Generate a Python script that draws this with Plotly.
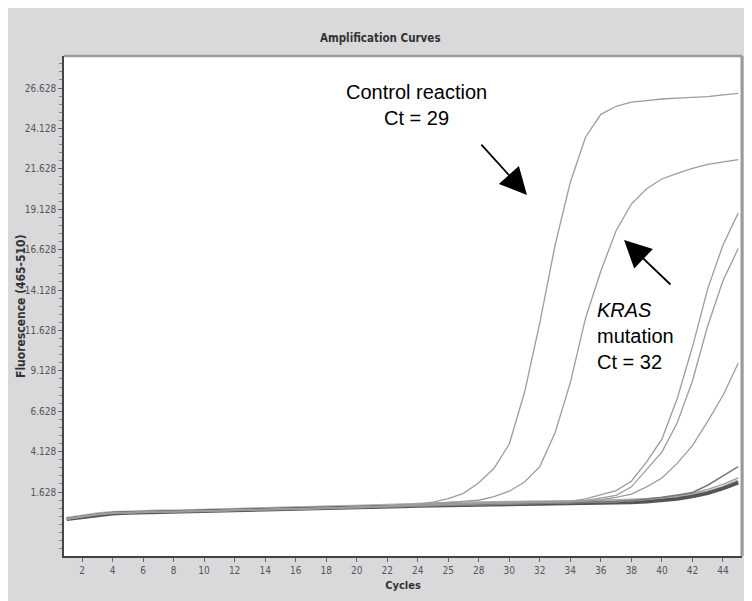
import plotly.graph_objects as go

cycles = list(range(1, 46))

control = [-0.04, 0.10, 0.25, 0.33, 0.37, 0.39, 0.40, 0.41, 0.43, 0.45,
           0.48, 0.51, 0.54, 0.57, 0.58, 0.59, 0.60, 0.62, 0.65, 0.69,
           0.72, 0.76, 0.81, 0.88, 1.00, 1.22, 1.55, 2.20, 3.10, 4.60,
           7.80, 12.10, 16.90, 20.80, 23.60, 25.00, 25.50, 25.75, 25.85, 25.95,
           26.00, 26.05, 26.10, 26.20, 26.30]

kras = [-0.02, 0.12, 0.26, 0.34, 0.38, 0.40, 0.41, 0.42, 0.44, 0.46,
        0.49, 0.52, 0.55, 0.57, 0.58, 0.60, 0.61, 0.63, 0.66, 0.70,
        0.73, 0.76, 0.80, 0.85, 0.92, 0.98, 1.05, 1.12, 1.35, 1.68,
        2.25, 3.20, 5.30, 8.40, 12.40, 15.30, 17.80, 19.45, 20.40, 21.00,
        21.35, 21.65, 21.90, 22.05, 22.20]

sample3 = [-0.03, 0.11, 0.25, 0.33, 0.37, 0.39, 0.40, 0.42, 0.43, 0.45,
           0.48, 0.51, 0.54, 0.56, 0.58, 0.59, 0.60, 0.62, 0.65, 0.69,
           0.72, 0.75, 0.79, 0.84, 0.88, 0.90, 0.92, 0.94, 0.96, 0.98,
           1.00, 1.02, 1.04, 1.05, 1.20, 1.45, 1.72, 2.30, 3.50, 4.90,
           7.40, 10.60, 14.20, 16.90, 18.90]

sample4 = [-0.03, 0.10, 0.24, 0.32, 0.36, 0.38, 0.40, 0.41, 0.42, 0.44,
           0.47, 0.50, 0.53, 0.56, 0.57, 0.58, 0.60, 0.61, 0.64, 0.68,
           0.71, 0.74, 0.78, 0.82, 0.86, 0.88, 0.90, 0.92, 0.94, 0.96,
           0.98, 1.00, 1.01, 1.02, 1.10, 1.25, 1.42, 1.95, 3.00, 4.10,
           5.90, 8.50, 11.90, 14.70, 16.70]

sample5 = [-0.04, 0.09, 0.24, 0.32, 0.36, 0.38, 0.39, 0.40, 0.42, 0.44,
           0.47, 0.50, 0.53, 0.55, 0.57, 0.58, 0.59, 0.61, 0.64, 0.67,
           0.70, 0.73, 0.77, 0.81, 0.85, 0.87, 0.89, 0.91, 0.93, 0.95,
           0.96, 0.98, 1.00, 1.02, 1.06, 1.15, 1.30, 1.50, 1.95, 2.50,
           3.40, 4.50, 6.00, 7.60, 9.60]

sample6 = [-0.05, 0.09, 0.23, 0.31, 0.35, 0.37, 0.39, 0.40, 0.41, 0.43,
           0.46, 0.49, 0.52, 0.55, 0.56, 0.57, 0.59, 0.60, 0.63, 0.66,
           0.69, 0.72, 0.75, 0.79, 0.82, 0.84, 0.85, 0.86, 0.88, 0.89,
           0.90, 0.92, 0.94, 0.96, 0.98, 1.00, 1.05, 1.10, 1.18, 1.30,
           1.45, 1.60, 2.05, 2.60, 3.20]

sample7 = [-0.05, 0.08, 0.22, 0.30, 0.34, 0.36, 0.38, 0.39, 0.40, 0.42,
           0.45, 0.48, 0.51, 0.54, 0.55, 0.56, 0.58, 0.59, 0.62, 0.65,
           0.68, 0.71, 0.74, 0.77, 0.80, 0.82, 0.83, 0.84, 0.86, 0.87,
           0.88, 0.90, 0.92, 0.94, 0.96, 0.98, 1.02, 1.08, 1.15, 1.25,
           1.40, 1.55, 1.80, 2.10, 2.50]

negative1 = [-0.06, 0.06, 0.21, 0.29, 0.33, 0.35, 0.37, 0.38, 0.40, 0.42,
             0.45, 0.48, 0.50, 0.52, 0.53, 0.55, 0.57, 0.58, 0.61, 0.64,
             0.67, 0.70, 0.73, 0.76, 0.79, 0.81, 0.82, 0.83, 0.84, 0.85,
             0.86, 0.87, 0.88, 0.89, 0.90, 0.92, 0.95, 0.98, 1.03, 1.10,
             1.20, 1.35, 1.55, 1.85, 2.20]

negative2 = [-0.02, 0.12, 0.27, 0.35, 0.39, 0.41, 0.43, 0.44, 0.46, 0.48,
             0.51, 0.54, 0.57, 0.60, 0.61, 0.63, 0.64, 0.66, 0.69, 0.73,
             0.76, 0.79, 0.83, 0.87, 0.90, 0.92, 0.94, 0.95, 0.97, 0.99,
             1.00, 1.01, 1.02, 1.03, 1.04, 1.05, 1.07, 1.10, 1.14, 1.20,
             1.30, 1.45, 1.62, 1.90, 2.30]

y_tick_values = [1.628, 4.128, 6.628, 9.128, 11.628, 14.128, 16.628, 19.128, 21.628, 24.128, 26.628]
y_tick_labels = ["1.628", "4.128", "6.628", "9.128", "11.628", "14.128", "16.628", "19.128", "21.628", "24.128", "26.628"]
x_tick_values = [2, 4, 6, 8, 10, 12, 14, 16, 18, 20, 22, 24, 26, 28, 30, 32, 34, 36, 38, 40, 42, 44]
x_tick_labels = ["2", "4", "6", "8", "10", "12", "14", "16", "18", "20", "22", "24", "25", "28", "30", "32", "34", "36", "38", "40", "42", "44"]

NARROW = "Liberation Sans Narrow, Arial Narrow, DejaVu Sans Condensed, sans-serif"
ARIAL = "Liberation Sans, Arial, sans-serif"

fig = go.Figure()

light = "#9c9c9c"
series = [
    (negative2, "#ababab", 3.6),
    (negative1, "#555555", 3.6),
    (sample7, light, 1.3),
    (sample6, "#7a7a7a", 1.5),
    (sample5, light, 1.3),
    (sample4, light, 1.3),
    (sample3, light, 1.3),
    (kras, light, 1.3),
    (control, light, 1.3),
]
for vals, col, w in series:
    fig.add_trace(go.Scatter(x=cycles, y=vals, mode="lines",
                             line=dict(color=col, width=w), showlegend=False,
                             hoverinfo="skip"))

fig.update_layout(
    width=752, height=601,
    margin=dict(l=56, r=18, t=48, b=53),
    paper_bgcolor="#d9d9db",
    plot_bgcolor="white",
    title=dict(text="<b>Amplification Curves</b>", x=0.495, xref="container", xanchor="center",
               y=1 - 30 / 601, yref="container", yanchor="middle",
               font=dict(family=NARROW, size=11.5, color="#333333")),
    xaxis=dict(range=[0.82, 45.25], tickmode="array", tickvals=x_tick_values,
               ticktext=x_tick_labels, ticks="outside", ticklen=4, tickcolor="#666",
               showgrid=False, zeroline=False, showline=True, linecolor="#444",
               linewidth=1.5, automargin=False,
               tickfont=dict(family=NARROW, size=10, color="#555555"),
               title=dict(text="<b>Cycles</b>", standoff=7,
                          font=dict(family=NARROW, size=11, color="#333333"))),
    yaxis=dict(range=[-2.33, 28.61], tickmode="array", tickvals=y_tick_values,
               ticktext=y_tick_labels, ticks="outside", ticklen=4, tickcolor="#666",
               showgrid=False, zeroline=False, showline=True, linecolor="#444",
               linewidth=1.5, automargin=False,
               minor=dict(dtick=0.5, tick0=1.628, ticks="outside", ticklen=3,
                          tickcolor="#888", showgrid=False),
               tickfont=dict(family=NARROW, size=10, color="#555555")),
)

# y axis title placed as rotated text
fig.add_annotation(x=(13 - 56) / 678, y=0.5, xref="paper", yref="paper",
                   text="<b>Fluorescence (465-510)</b>", textangle=-90,
                   showarrow=False, xanchor="center", yanchor="middle",
                   font=dict(family=NARROW, size=12, color="#333333"))

# top and right frame
fig.add_shape(type="line", xref="paper", yref="paper", x0=0, x1=1, y0=1, y1=1,
              line=dict(color="#9a9a9a", width=2.5))
fig.add_shape(type="line", xref="paper", yref="paper", x0=1, x1=1, y0=0, y1=1,
              line=dict(color="#9a9a9a", width=3))

# annotations
fig.add_annotation(x=23.95, y=25.6, xref="x", yref="y", showarrow=False,
                   text="Control reaction<br>Ct = 29", align="center",
                   font=dict(family=ARIAL, size=20, color="black"))
fig.add_annotation(x=35.6, y=11.3, xref="x", yref="y", showarrow=False,
                   xanchor="left", align="left",
                   text="<i>KRAS</i><br>mutation<br>Ct = 32",
                   font=dict(family=ARIAL, size=20, color="black"))
fig.add_annotation(x=31.16, y=20.01, ax=28.08, ay=23.22, xref="x", yref="y",
                   axref="x", ayref="y", text="", showarrow=True,
                   arrowhead=2, arrowsize=3, arrowwidth=1.8, arrowcolor="black")
fig.add_annotation(x=37.52, y=17.22, ax=40.66, ay=14.38, xref="x", yref="y",
                   axref="x", ayref="y", text="", showarrow=True,
                   arrowhead=2, arrowsize=3, arrowwidth=1.8, arrowcolor="black")

fig.write_html("out.html")
